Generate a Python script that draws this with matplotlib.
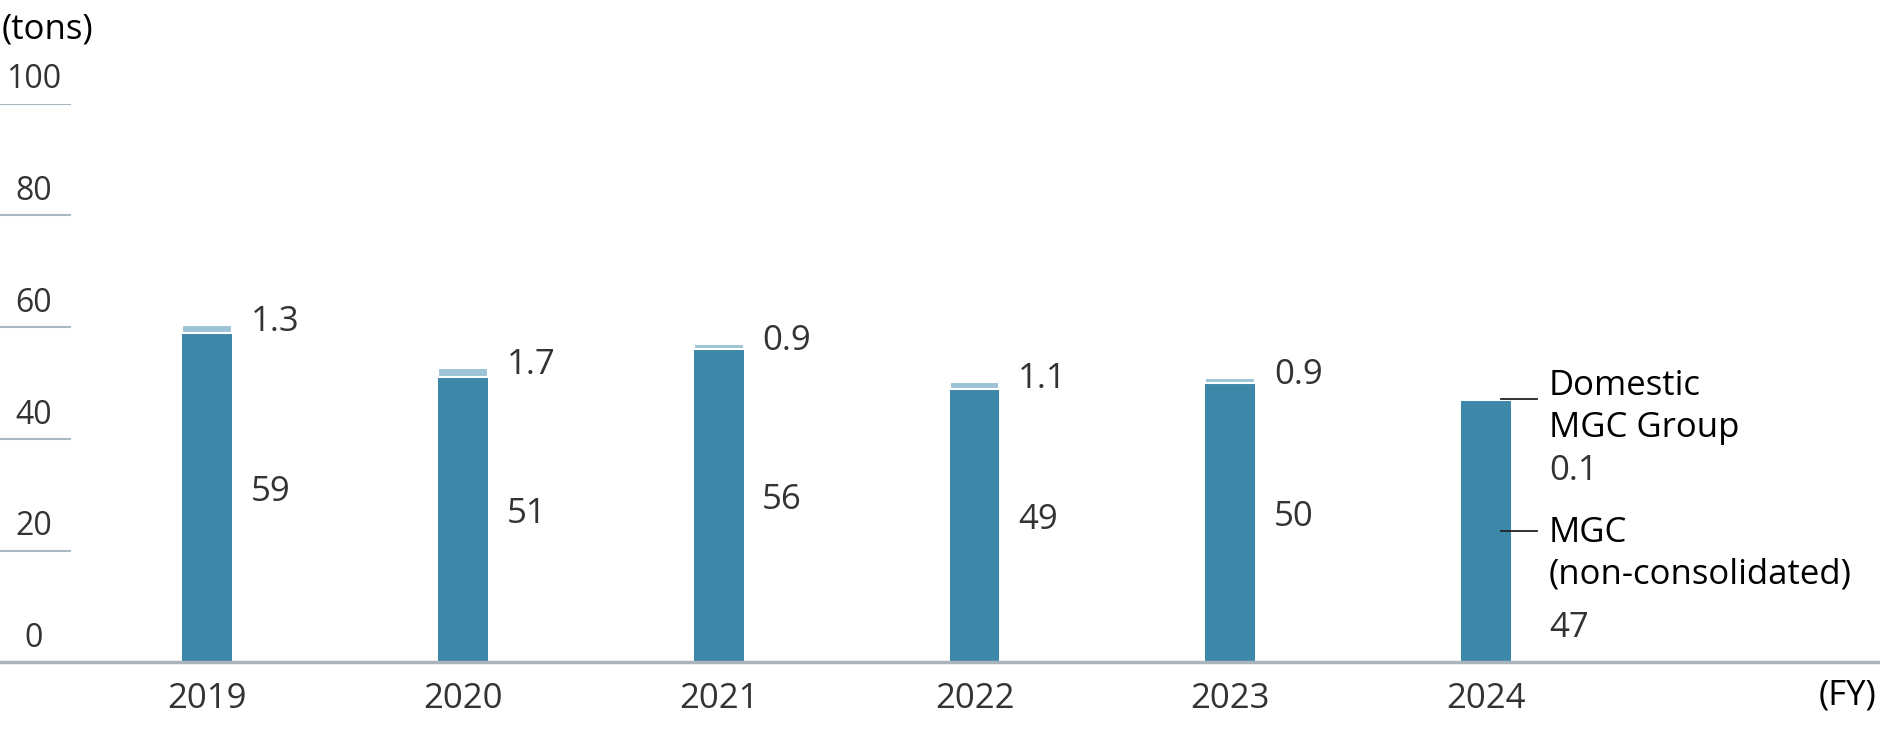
import matplotlib
matplotlib.use("Agg")
import matplotlib.pyplot as plt
from matplotlib.transforms import blended_transform_factory as btf

years = ["2019", "2020", "2021", "2022", "2023", "2024"]
mgc = [59, 51, 56, 49, 50, 47]
domestic = [1.3, 1.7, 0.9, 1.1, 0.9, 0.1]
mgc_lbl = ["59", "51", "56", "49", "50", "47"]
dom_lbl = ["1.3", "1.7", "0.9", "1.1", "0.9", "0.1"]
yticks = [0, 20, 40, 60, 80, 100]

plt.rcParams['font.family'] = ['Open Sans', 'DejaVu Sans']
fs = 25
tc = '#333333'
dark = '#3d87a9'
light = '#9dc4d6'

fig = plt.figure(figsize=(18.8, 7.4), dpi=100)
ax = fig.add_axes([0, 0.105, 1, 0.755])
x = list(range(len(years)))
w = 0.195
ax.bar(x, mgc, width=w, color=dark, zorder=3)
ax.bar(x, domestic, bottom=mgc, width=w, color=light, edgecolor='white', linewidth=1.5, zorder=3)
ax.set_xlim(-0.81, 6.54)
ax.set_ylim(0, 100)
for s in ax.spines.values():
    s.set_visible(False)
ax.set_xticks([]); ax.set_yticks([])
ax.axhline(0, color='#aab4bb', lw=2.5, zorder=4, clip_on=False)
tr = btf(ax.transAxes, ax.transData)
for v in yticks:
    if v > 0:
        ax.plot([0, 0.037], [v, v], transform=tr, color='#a9b7c0', lw=1.5)
    ax.text(0.018, v + 1.3, str(v), transform=tr, ha='center', va='bottom', fontsize=fs - 2, color=tc)
for i in range(len(years)):
    ax.text(i, -3.5, years[i], ha='center', va='top', fontsize=fs, color=tc)
    if i < 5:
        ax.text(i + 0.17, mgc[i] + domestic[i] + 0.6, dom_lbl[i], ha='left', va='center', fontsize=fs, color=tc)
        ax.text(i + 0.17, mgc[i] / 2 + 1, mgc_lbl[i], ha='left', va='center', fontsize=fs, color=tc)
i = 5
top = mgc[i] + domestic[i]
ax.plot([i + 0.06, i + 0.2], [top, top], color='#222222', lw=1.3, zorder=4)
ax.plot([i + 0.06, i + 0.2], [mgc[i] / 2, mgc[i] / 2], color='#222222', lw=1.3, zorder=4)
ax.text(i + 0.245, 52.5, "Domestic\nMGC Group", ha='left', va='top', fontsize=fs, color='black', linespacing=1.3)
ax.text(i + 0.245, 34.2, dom_lbl[i], ha='left', va='center', fontsize=fs, color=tc)
ax.text(i + 0.245, 26.2, "MGC\n(non-consolidated)", ha='left', va='top', fontsize=fs, color='black', linespacing=1.3)
ax.text(i + 0.245, 6.1, mgc_lbl[i], ha='left', va='center', fontsize=fs, color=tc)
fig.text(0.001, 0.96, "(tons)", ha='left', va='center', fontsize=fs, color='black')
fig.text(0.998, 0.06, "(FY)", ha='right', va='center', fontsize=fs, color='black')
fig.savefig("out.png", dpi=100)
